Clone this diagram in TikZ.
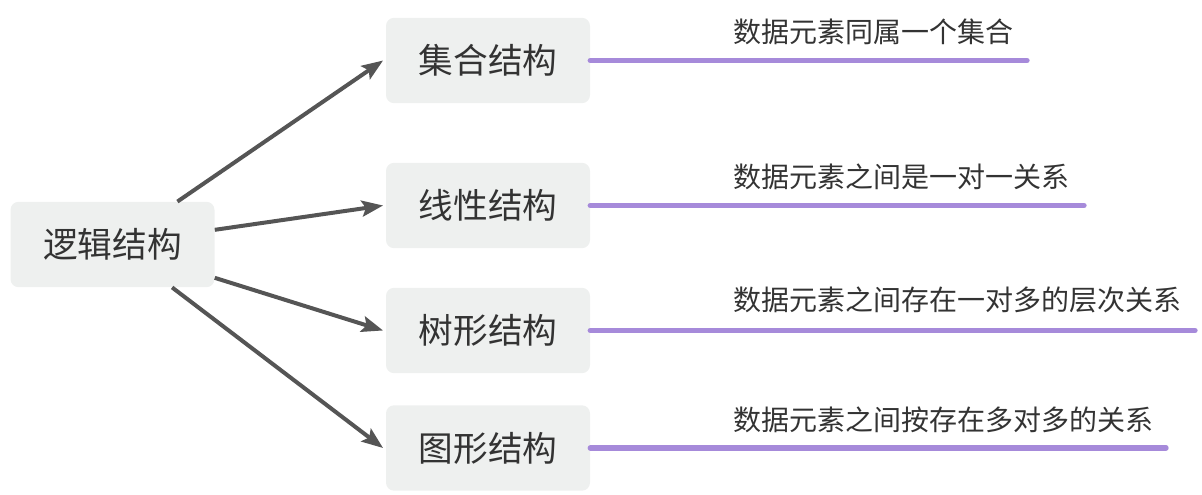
\documentclass[tikz,border=0pt]{standalone}
\usepackage{fontspec}
\usepackage{tikz}
\usetikzlibrary{arrows.meta,positioning}
\newfontfamily\cjk{Noto Sans CJK SC}
\definecolor{colorbox}{RGB}{238,240,239}
\definecolor{colortext}{RGB}{51,51,51}
\definecolor{colorarrow}{RGB}{85,85,85}
\definecolor{colorline}{RGB}{166,138,218}
\tikzstyle{topic}=[rectangle, rounded corners=6pt, fill=colorbox, text=colortext, minimum width=153pt, minimum height=64pt, inner sep=0pt, font=\cjk\fontsize{26pt}{30pt}\selectfont]
\tikzstyle{remark}=[anchor=west, text=colortext, inner sep=0pt, font=\cjk\fontsize{21pt}{25pt}\selectfont]
\tikzstyle{branch}=[draw=colorline, line width=4pt, line cap=round]
\tikzstyle{link}=[draw=colorarrow, line width=3pt]

\begin{document}
\begin{tikzpicture}[x=0.75pt, y=-0.75pt, ->, >={Stealth[length=16pt, width=12pt, inset=3pt]}]
		\useasboundingbox (0,0) rectangle (1202,495);
		
		\node[topic] at (112.5, 244.5) (root) {逻辑结构};
		
		\node[topic] at (488, 60.5) (set) {集合结构};
		\node[topic] at (488, 205.5) (linear) {线性结构};
		\node[topic] at (488, 330.5) (tree) {树形结构};
		\node[topic] at (488, 448) (graph) {图形结构};
		
		\coordinate (endset) at (1027, 60.5);
		\coordinate (endlinear) at (1084, 205.5);
		\coordinate (endtree) at (1195, 330.5);
		\coordinate (endgraph) at (1166, 448);
		
		\node[remark] at (733, 32) (txtset) {数据元素同属一个集合};
		\node[remark] at (733, 177) (txtlinear) {数据元素之间是一对一关系};
		\node[remark] at (733, 300) (txttree) {数据元素之间存在一对多的层次关系};
		\node[remark] at (733, 420) (txtgraph) {数据元素之间按存在多对多的关系};
		
		\draw[link] ([xshift=-28pt]root.north east) -- ([xshift=-2pt]set.west);
		\draw[link] ([yshift=11pt]root.east) -- ([xshift=-2pt]linear.west);
		\draw[link] ([yshift=-25pt]root.east) -- ([xshift=-2pt]tree.west);
		\draw[link] ([xshift=-32pt]root.south east) -- ([xshift=-2pt]graph.west);
		
		\draw[branch, -] (set.east) -- (endset);
		\draw[branch, -] (linear.east) -- (endlinear);
		\draw[branch, -] (tree.east) -- (endtree);
		\draw[branch, -] (graph.east) -- (endgraph);
		
\end{tikzpicture}
\end{document}
